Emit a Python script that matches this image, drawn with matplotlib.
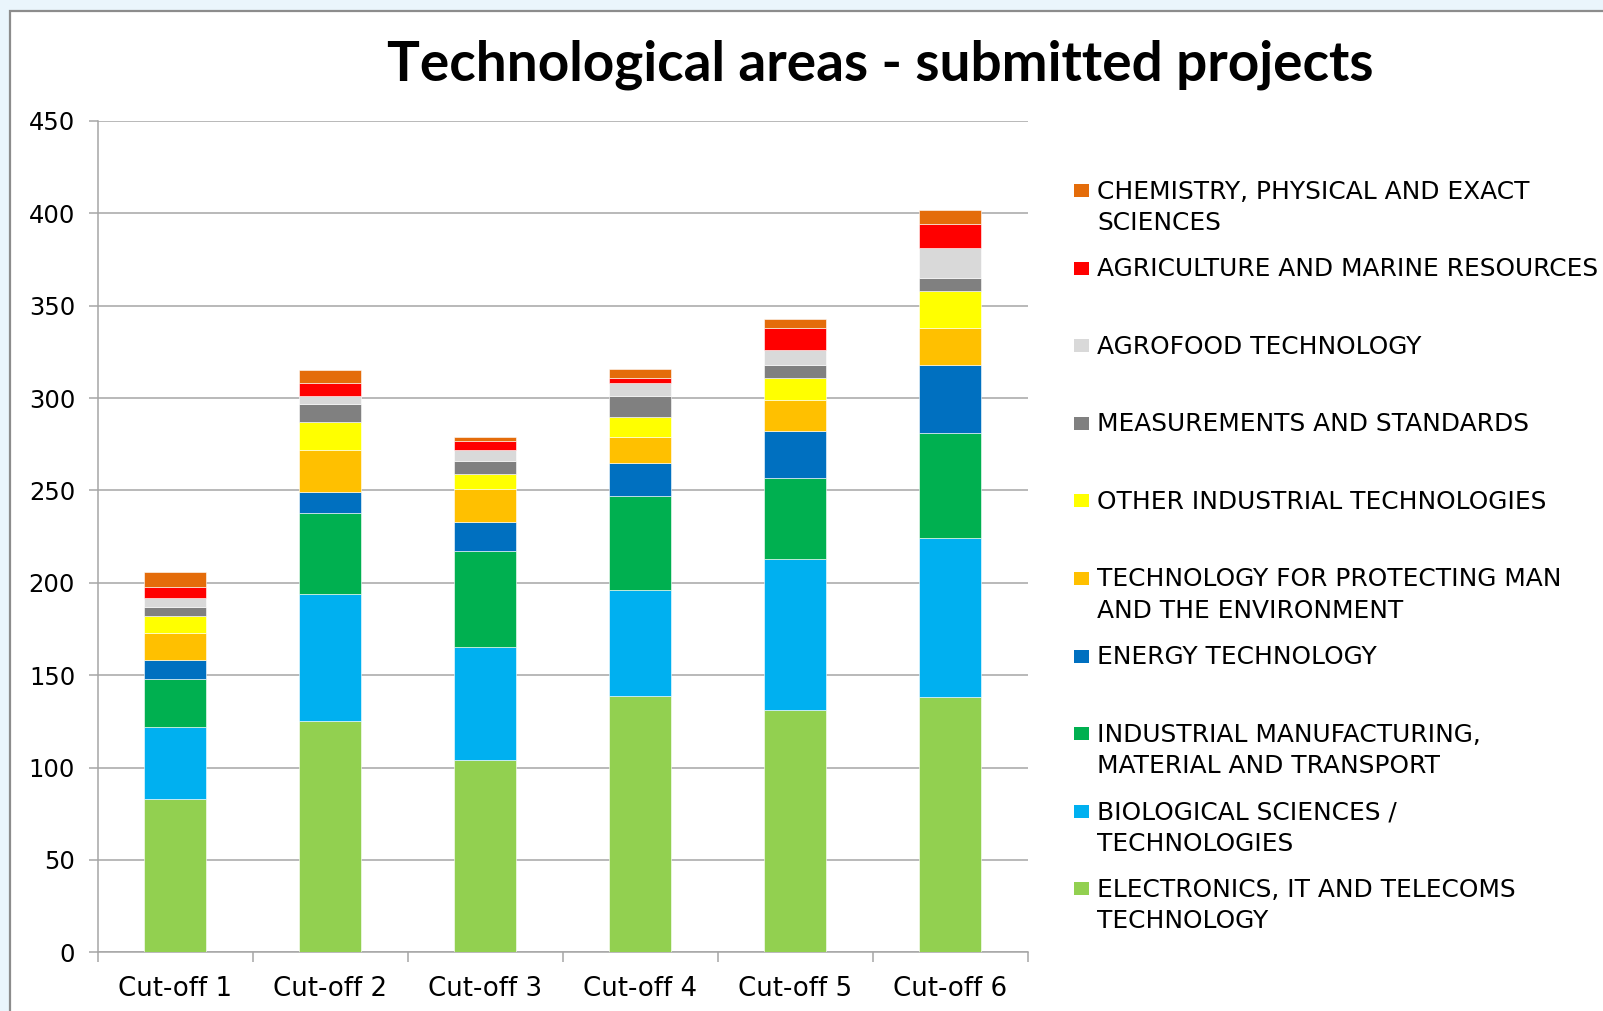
import numpy as np
import matplotlib
matplotlib.use("Agg")
import matplotlib.pyplot as plt
from matplotlib.patches import Rectangle

# Data, bottom segment first
cutoffs = ["Cut-off 1", "Cut-off 2", "Cut-off 3", "Cut-off 4", "Cut-off 5", "Cut-off 6"]
electronics = [83, 125, 104, 139, 131, 138]
biological = [39, 69, 61, 57, 82, 86]
industrial = [26, 44, 52, 51, 44, 57]
energy = [10, 11, 16, 18, 25, 37]
protecting = [15, 23, 18, 14, 17, 20]
other_industrial = [9, 15, 8, 11, 12, 20]
measurements = [5, 10, 7, 11, 7, 7]
agrofood = [5, 4, 6, 7, 8, 16]
agriculture = [6, 7, 5, 3, 12, 13]
chemistry = [8, 7, 2, 5, 5, 8]

series = [electronics, biological, industrial, energy, protecting,
          other_industrial, measurements, agrofood, agriculture, chemistry]
labels = ["ELECTRONICS, IT AND TELECOMS\nTECHNOLOGY",
          "BIOLOGICAL SCIENCES /\nTECHNOLOGIES",
          "INDUSTRIAL MANUFACTURING,\nMATERIAL AND TRANSPORT",
          "ENERGY TECHNOLOGY",
          "TECHNOLOGY FOR PROTECTING MAN\nAND THE ENVIRONMENT",
          "OTHER INDUSTRIAL TECHNOLOGIES",
          "MEASUREMENTS AND STANDARDS",
          "AGROFOOD TECHNOLOGY",
          "AGRICULTURE AND MARINE RESOURCES",
          "CHEMISTRY, PHYSICAL AND EXACT\nSCIENCES"]
colors = ["#92D050", "#00B0F0", "#00B050", "#0070C0", "#FFC000",
          "#FFFF00", "#808080", "#D9D9D9", "#FF0000", "#E46C0A"]

W, H = 1603, 1011
fig = plt.figure(figsize=(W / 100, H / 100), dpi=100)
fig.patch.set_facecolor("#EAF5FC")

# white chart frame, cut off at right and bottom like the screenshot
fig.add_artist(Rectangle((10 / W, -0.1), 1.2, 1.1 - 11 / H, transform=fig.transFigure,
                         facecolor="white", edgecolor="#8C8C8C", linewidth=1.6, zorder=0))

ax = fig.add_axes([98 / W, 1 - 952.3 / H, (1027.5 - 98) / W, (952.3 - 121) / H])
ax.set_facecolor("none")

x = np.arange(len(cutoffs))
bottom = np.zeros(len(cutoffs))
for vals, col in zip(series, colors):
    ax.bar(x, vals, width=0.4, bottom=bottom, color=col, edgecolor="white",
           linewidth=0.4, zorder=3)
    bottom += np.array(vals)

ax.set_ylim(0, 450)
ax.set_xlim(-0.5, len(cutoffs) - 0.5)
ax.set_yticks(np.arange(0, 451, 50))
ax.yaxis.grid(True, color="#A6A6A6", linewidth=1.1, zorder=0)
ax.set_axisbelow(True)

ax.set_xticks(x)
ax.set_xticklabels(cutoffs)
ax.set_xticks(np.arange(-0.5, len(cutoffs)), minor=True)
ax.tick_params(axis="x", which="major", length=0, pad=17, labelsize=18.7)
ax.tick_params(axis="x", which="minor", length=7, width=1.1, color="#A6A6A6", direction="out")
ax.tick_params(axis="y", length=6.5, width=1.1, color="#A6A6A6", pad=10, labelsize=17.5)

for s in ["top", "right"]:
    ax.spines[s].set_visible(False)
for s in ["left", "bottom"]:
    ax.spines[s].set_color("#A6A6A6")
    ax.spines[s].set_linewidth(1.1)

fig.text(880 / W, 1 - 65 / H, "Technological areas - submitted projects",
         family="Lato", fontweight="bold", fontsize=39.5, ha="center", va="center")

# legend, top entry = top segment
y0, step = 190, 77.6
for i, (lab, col) in enumerate(zip(labels[::-1], colors[::-1])):
    yc = y0 + step * i
    fig.add_artist(Rectangle((1074 / W, 1 - (yc + 7) / H), 15 / W, 13 / H,
                             transform=fig.transFigure, facecolor=col,
                             edgecolor="none"))
    fig.text(1097 / W, 1 - (yc - 10.5) / H, lab, fontsize=17.9, ha="left", va="top",
             linespacing=1.39)

fig.savefig("out.png", dpi=100, facecolor=fig.get_facecolor())
